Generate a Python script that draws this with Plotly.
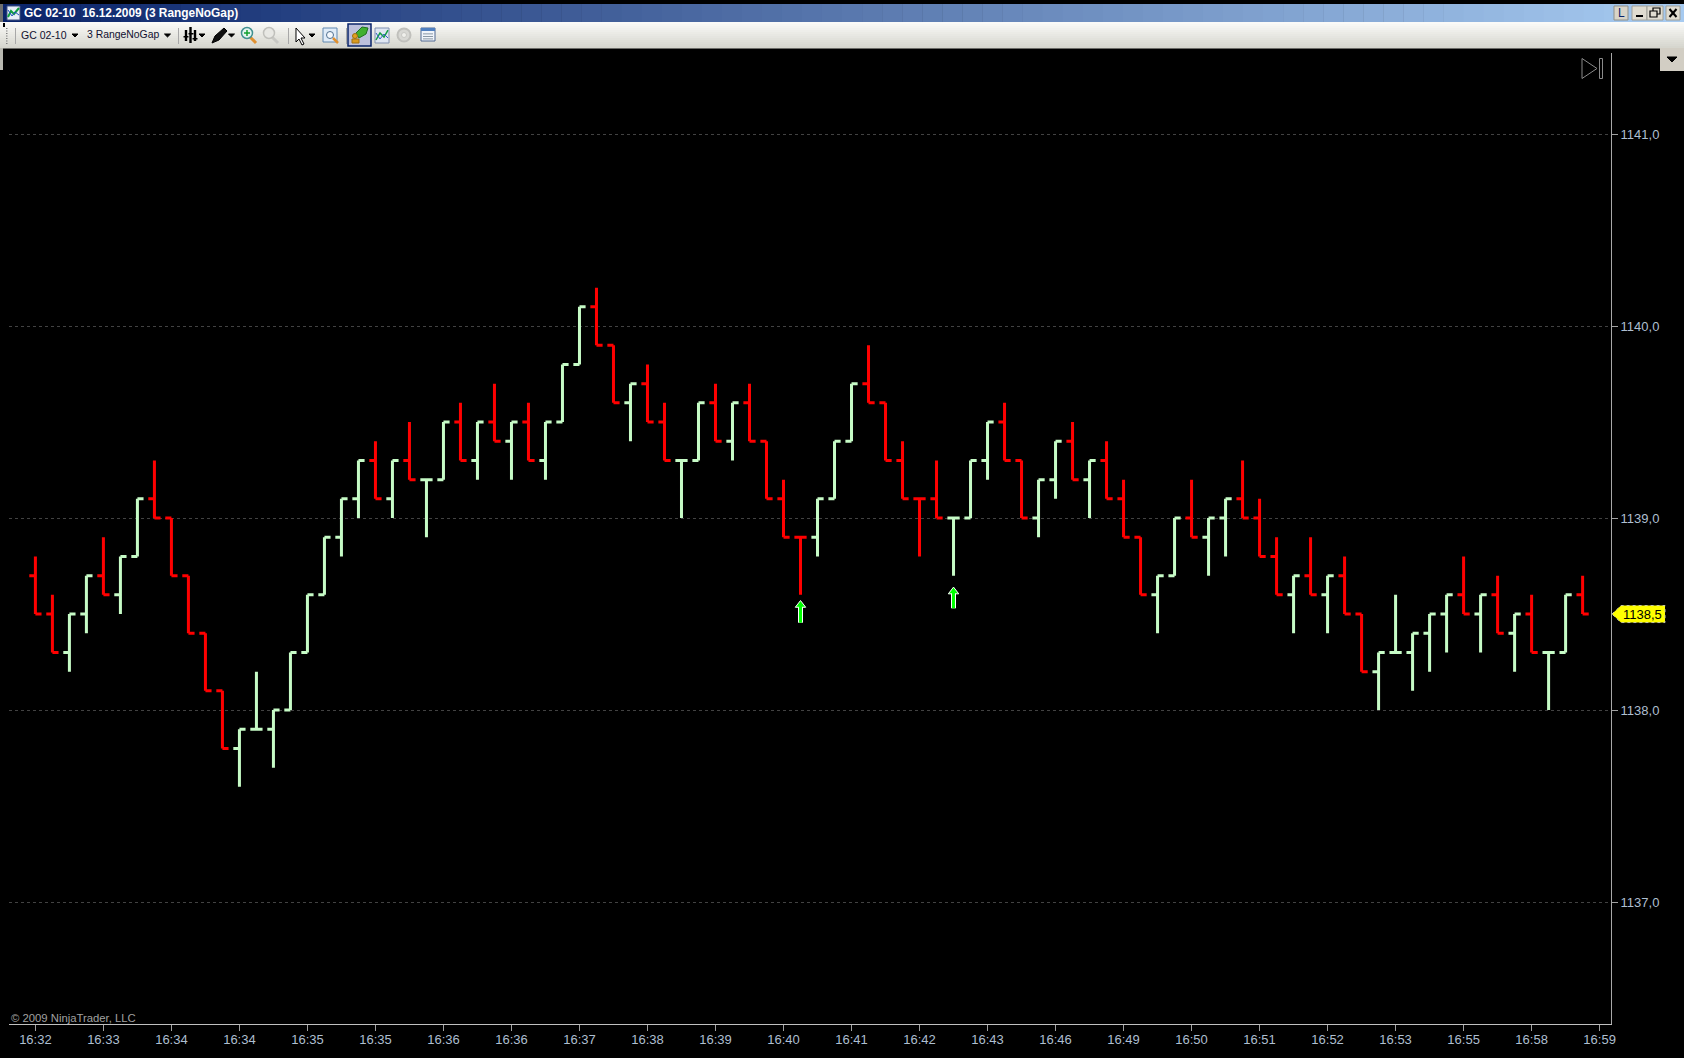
import plotly.graph_objects as go

W, H = 1684, 1058

directions = list("RRGGRGGRRRRRGGGGGGGGRGRGGRGRGRGGGRRGRRGGRGRRRRGGGRRRRRGGGRRGGRGRRRGGRGGRRRGRGRRGGGGGRGRGRGGR")
opens = [1138.7,1138.5,1138.3,1138.5,1138.7,1138.6,1138.8,1139.1,1139.0,1138.7,1138.4,1138.1,1137.8,1137.9,1137.9,1138.0,1138.3,1138.6,1138.9,1139.1,
         1139.3,1139.1,1139.3,1139.2,1139.2,1139.5,1139.3,1139.5,1139.4,1139.5,1139.3,1139.5,1139.8,1140.1,1139.9,1139.6,1139.7,1139.5,1139.3,1139.3,
         1139.6,1139.4,1139.6,1139.4,1139.1,1138.9,1138.9,1139.1,1139.4,1139.7,1139.6,1139.3,1139.1,1139.1,1139.0,1139.0,1139.3,1139.5,1139.3,1139.0,
         1139.2,1139.4,1139.2,1139.3,1139.1,1138.9,1138.6,1138.7,1139.0,1138.9,1139.0,1139.1,1139.0,1138.8,1138.6,1138.7,1138.6,1138.7,1138.5,1138.2,
         1138.3,1138.3,1138.4,1138.5,1138.6,1138.5,1138.6,1138.4,1138.5,1138.3,1138.3,1138.6]
highs = [1138.8,1138.6,1138.5,1138.7,1138.9,1138.8,1139.1,1139.3,1139.0,1138.7,1138.4,1138.1,1137.9,1138.2,1138.0,1138.3,1138.6,1138.9,1139.1,1139.3,
         1139.4,1139.3,1139.5,1139.2,1139.5,1139.6,1139.5,1139.7,1139.5,1139.6,1139.5,1139.8,1140.1,1140.2,1139.9,1139.7,1139.8,1139.6,1139.3,1139.6,
         1139.7,1139.6,1139.7,1139.4,1139.2,1138.9,1139.1,1139.4,1139.7,1139.9,1139.6,1139.4,1139.1,1139.3,1139.0,1139.3,1139.5,1139.6,1139.3,1139.2,
         1139.4,1139.5,1139.3,1139.4,1139.2,1138.9,1138.7,1139.0,1139.2,1139.0,1139.1,1139.3,1139.1,1138.9,1138.7,1138.9,1138.7,1138.8,1138.5,1138.3,
         1138.6,1138.4,1138.5,1138.6,1138.8,1138.6,1138.7,1138.5,1138.6,1138.3,1138.6,1138.7]
lows = [1138.5,1138.3,1138.2,1138.4,1138.6,1138.5,1138.8,1139.0,1138.7,1138.4,1138.1,1137.8,1137.6,1137.9,1137.7,1138.0,1138.3,1138.6,1138.8,1139.0,
        1139.1,1139.0,1139.2,1138.9,1139.2,1139.3,1139.2,1139.4,1139.2,1139.3,1139.2,1139.5,1139.8,1139.9,1139.6,1139.4,1139.5,1139.3,1139.0,1139.3,
        1139.4,1139.3,1139.4,1139.1,1138.9,1138.6,1138.8,1139.1,1139.4,1139.6,1139.3,1139.1,1138.8,1139.0,1138.7,1139.0,1139.2,1139.3,1139.0,1138.9,
        1139.1,1139.2,1139.0,1139.1,1138.9,1138.6,1138.4,1138.7,1138.9,1138.7,1138.8,1139.0,1138.8,1138.6,1138.4,1138.6,1138.4,1138.5,1138.2,1138.0,
        1138.3,1138.1,1138.2,1138.3,1138.5,1138.3,1138.4,1138.2,1138.3,1138.0,1138.3,1138.5]
closes = [1138.5,1138.3,1138.5,1138.7,1138.6,1138.8,1139.1,1139.0,1138.7,1138.4,1138.1,1137.8,1137.9,1137.9,1138.0,1138.3,1138.6,1138.9,1139.1,1139.3,
          1139.1,1139.3,1139.2,1139.2,1139.5,1139.3,1139.5,1139.4,1139.5,1139.3,1139.5,1139.8,1140.1,1139.9,1139.6,1139.7,1139.5,1139.3,1139.3,1139.6,
          1139.4,1139.6,1139.4,1139.1,1138.9,1138.9,1139.1,1139.4,1139.7,1139.6,1139.3,1139.1,1139.1,1139.0,1139.0,1139.3,1139.5,1139.3,1139.0,1139.2,
          1139.4,1139.2,1139.3,1139.1,1138.9,1138.6,1138.7,1139.0,1138.9,1139.0,1139.1,1139.0,1138.8,1138.6,1138.7,1138.6,1138.7,1138.5,1138.2,1138.3,
          1138.3,1138.4,1138.5,1138.6,1138.5,1138.6,1138.4,1138.5,1138.3,1138.3,1138.6,1138.5]

time_labels = ["16:32","16:33","16:34","16:34","16:35","16:35","16:36","16:36","16:37","16:38","16:39","16:40",
               "16:41","16:42","16:43","16:46","16:49","16:50","16:51","16:52","16:53","16:55","16:58","16:59"]
time_ticks = list(range(0, 96, 4))
price_ticks = [1137, 1138, 1139, 1140, 1141]

signal_bars = [45, 54]
signal_heads = [1138.547, 1138.617]
signal_bases = [1138.455, 1138.53]
last_price = closes[-1]


def px(x):
    return x / W


def py(y):
    return 1 - y / H


GREEN = "#c6fbc6"
RED = "#ff0000"
fig = go.Figure()
for code, colour in (("G", GREEN), ("R", RED)):
    idx = [i for i, d in enumerate(directions) if d == code]
    line = dict(line=dict(color=colour, width=3))
    fig.add_trace(go.Ohlc(x=idx, open=[opens[i] for i in idx], high=[highs[i] for i in idx],
                          low=[lows[i] for i in idx], close=[closes[i] for i in idx],
                          increasing=line, decreasing=line, tickwidth=0.36, hoverinfo="skip", showlegend=False))

shaft_x, shaft_y = [], []
for b, h, l in zip(signal_bars, signal_heads, signal_bases):
    shaft_x += [b, b, None]
    shaft_y += [l, h, None]
fig.add_trace(go.Scatter(x=shaft_x, y=shaft_y, mode="lines", line=dict(color="#ffffff", width=5), hoverinfo="skip", showlegend=False))
fig.add_trace(go.Scatter(x=signal_bars, y=signal_heads, mode="markers", hoverinfo="skip", showlegend=False,
                         marker=dict(symbol="triangle-up", size=9, color="#00ff00", line=dict(color="#ffffff", width=1))))
fig.add_trace(go.Scatter(x=shaft_x, y=shaft_y, mode="lines", line=dict(color="#00ff00", width=3), hoverinfo="skip", showlegend=False))

shapes, annos = [], []


def rect(x0, y0, x1, y1, fill, line=None, lw=1, dash=None):
    shapes.append(dict(type="rect", xref="paper", yref="paper", x0=px(x0), x1=px(x1), y0=py(y1), y1=py(y0),
                       fillcolor=fill, layer="above",
                       line=dict(color=line or fill, width=lw if line else 0, dash=dash or "solid")))


def poly(points, fill=None, line=None, lw=1, close=True, dash=None):
    d = "M " + " L ".join(f"{px(a):.5f},{py(b):.5f}" for a, b in points) + (" Z" if close else "")
    shapes.append(dict(type="path", xref="paper", yref="paper", path=d, layer="above",
                       fillcolor=fill if fill else "rgba(0,0,0,0)",
                       line=dict(color=line or "rgba(0,0,0,0)", width=lw, dash=dash or "solid")))


def circle(cx, cy, r, fill, line=None, lw=1):
    shapes.append(dict(type="circle", xref="paper", yref="paper", x0=px(cx - r), x1=px(cx + r), y0=py(cy + r), y1=py(cy - r),
                       fillcolor=fill, layer="above", line=dict(color=line or fill, width=lw)))


def text(x, y, s, size, colour, font="Liberation Sans", anchor="left"):
    annos.append(dict(xref="paper", yref="paper", x=px(x), y=py(y), text=s, showarrow=False, xanchor=anchor, yanchor="middle",
                      font=dict(family=font, size=size, color=colour), borderpad=0, borderwidth=0))


def lerp(a, b, t):
    return "#%02x%02x%02x" % tuple(round(a[i] + (b[i] - a[i]) * t) for i in range(3))


# title bar and toolbar backgrounds
steps = 84
for i in range(steps):
    rect(i * W / steps, 4, (i + 1) * W / steps + 0.5, 22, lerp((10, 36, 106), (166, 202, 240), i / (steps - 1)))
for i in range(13):
    rect(0, 22 + 2 * i, W, 24.5 + 2 * i, lerp((250, 250, 248), (214, 214, 206), i / 12))
rect(0, 48, 3, 70, "#b8b8b0")
rect(0, 4, 3, 22, "#707070")
rect(3, 23, 5, 27, "#000000")

# title icon
rect(7, 6, 20, 20, "#e8eef8", "#405080")
poly([(8, 17), (11, 11), (14, 14), (19, 8)], None, "#10a040", 2, close=False)
poly([(8, 10), (12, 16), (15, 12), (19, 15)], None, "#2050c0", 1, close=False)
text(24, 13, "<b>GC 02-10&nbsp;&nbsp;16.12.2009 (3 RangeNoGap)</b>", 11.9, "#ffffff", "Liberation Sans")

# toolbar
for i in range(7):
    rect(6, 28 + 2.5 * i, 7.5, 29 + 2.5 * i, "#808080")
for sx in (15, 178, 288, 346):
    rect(sx, 28, sx + 1, 44, "#a8a8a8")
text(21, 35, "GC 02-10", 10.5, "#101030")
text(87, 35, "3 RangeNoGap", 10.4, "#101030")
for ax in (75, 167.5, 202, 231.5, 312):
    poly([(ax - 3, 34), (ax + 3, 34), (ax, 37)], "#000000", "#000000")
for bx, y0, y1 in ((186, 30, 41), (190.5, 27, 43), (195, 30, 41)):
    rect(bx - 1.2, y0, bx + 1.2, y1, "#000000")
for bx, by in ((186, 36), (191, 33), (195, 38)):
    rect(bx - 2.5, by, bx + 2.5, by + 1.5, "#000000")
poly([(212, 43), (215, 36), (224, 28), (227, 31), (219, 40)], "#101010", "#000000")
poly([(250, 37), (256, 43)], None, "#e09030", 3, close=False)
circle(247, 33, 5.5, "#e4f4f0", "#409090", 1.5)
poly([(244, 33), (250, 33)], None, "#10a030", 1.5, close=False)
poly([(247, 30), (247, 36)], None, "#10a030", 1.5, close=False)
poly([(272, 37), (278, 43)], None, "#c8c8c4", 3, close=False)
circle(269, 33, 5.5, "#e8e8e4", "#c0c0bc", 1.5)
poly([(296, 28), (296, 42), (299, 39), (302, 45), (304, 44), (301, 38), (305, 38)], "#ffffff", "#000000", 1)
rect(323, 28, 337, 42, "#e0ecf8", "#6088b0")
circle(330, 35, 3.5, "#f4f8fc", "#507090", 1)
poly([(333, 38), (338, 43)], None, "#e09030", 2.5, close=False)
rect(348, 24, 371, 46, "#bcc0dc", "#0a246a", 1.5)
poly([(356, 33), (362, 27), (368, 28), (366, 34), (359, 38)], "#40b030", "#207020", 1)
circle(355, 36, 2.5, "#e0a020", "#a07010", 1)
rect(352, 39, 359, 43, "#d89a20", "#a07010")
rect(375, 28, 389, 43, "#dfe6f2", "#8090b0")
poly([(376, 40), (380, 33), (384, 37), (388, 30)], None, "#10a040", 1.5, close=False)
poly([(376, 33), (380, 39), (384, 34), (388, 38)], None, "#3060c0", 1, close=False)
circle(404, 35, 6.5, "#d8d8d4", "#c0c0bc", 2)
circle(404, 35, 2.5, "#f0f0ec", "#c8c8c4", 1)
rect(421, 28, 435, 41, "#f0f4fa", "#506890")
rect(421, 28, 435, 31, "#5080c0")
for gy in (33.5, 36, 38.5):
    rect(423, gy, 433, gy + 0.8, "#708090")

# window buttons
rect(1614, 6, 1628, 20, "#d8d4c8", "#909088")
text(1621, 13, "L", 12, "#0a246a", anchor="center")
rect(1632, 6, 1647, 20, "#e0dcd0", "#a0a098")
rect(1636, 15, 1643, 17, "#000000")
rect(1647, 6, 1663, 20, "#e0dcd0", "#a0a098")
rect(1653, 8, 1660, 14, "rgba(0,0,0,0)", "#000000", 1.2)
rect(1650, 11, 1657, 17, "#e0dcd0", "#000000", 1.2)
rect(1666, 6, 1680, 20, "#e0dcd0", "#a0a098")
poly([(1669.5, 9), (1676.5, 17)], None, "#000000", 2, close=False)
poly([(1676.5, 9), (1669.5, 17)], None, "#000000", 2, close=False)
rect(1660, 48, 1684, 71, "#d2cec4")
poly([(1667, 57), (1677, 57), (1672, 62)], "#000000", "#000000")

# go-to-end icon
poly([(1582, 58.5), (1597, 68.5), (1582, 78.5)], None, "#8a8a8a", 1)
rect(1599.5, 58.5, 1602.5, 78.5, "rgba(0,0,0,0)", "#8a8a8a", 1)

# current price tag
tag_half = 8.5 / 192
tag_left = (1612, 1621)
tag_right = 1665
shapes.append(dict(type="path", xref="paper", yref="y", layer="above", fillcolor="#ffff00", line=dict(color="#c8c8a8", width=1, dash="dot"),
                   path=f"M {px(tag_left[0]):.5f},{last_price} L {px(tag_left[1]):.5f},{last_price + tag_half:.4f} "
                        f"L {px(tag_right):.5f},{last_price + tag_half:.4f} L {px(tag_right):.5f},{last_price - tag_half:.4f} "
                        f"L {px(tag_left[1]):.5f},{last_price - tag_half:.4f} Z"))
annos.append(dict(xref="paper", yref="y", x=px(1642), y=last_price, text=f"{last_price:.1f}".replace(".", ","), showarrow=False,
                  xanchor="center", yanchor="middle", font=dict(family="Liberation Sans", size=13, color="#000000")))

text(11, 1018, "© 2009 NinjaTrader, LLC", 11.3, "#a0a0a0")

AXIS_FONT = dict(family="Liberation Sans", size=13, color="#aebfd0")
fig.update_layout(
    width=W, height=H, autosize=False, margin=dict(l=0, r=0, t=0, b=0, pad=0),
    paper_bgcolor="#000000", plot_bgcolor="#000000", separators=",.",
    showlegend=False, dragmode=False, shapes=shapes, annotations=annos,
    xaxis=dict(domain=[px(9), px(1611)], range=[-1.553, 92.67], rangeslider=dict(visible=False), showgrid=False, zeroline=False,
               showline=True, linecolor="#c0c0c0", linewidth=1, ticks="outside", ticklen=6, tickcolor="#a0a0a0",
               tickvals=time_ticks, ticktext=time_labels, tickfont=AXIS_FONT, tickangle=0, automargin=False, ticklabelstandoff=-3),
    yaxis=dict(domain=[py(1024), py(53)], range=[1136.365, 1141.422], side="right", showgrid=True, gridcolor="#424242",
               griddash="dot", gridwidth=1, zeroline=False, showline=True, linecolor="#a8a8a8", linewidth=1,
               ticks="outside", ticklen=6, tickcolor="#a0a0a0", tickvals=price_ticks, tickformat=".1f",
               tickfont=AXIS_FONT, automargin=False),
)

fig.write_html("out.html", config={"displayModeBar": False},
               post_script="document.body.style.margin='0';document.body.style.background='#000';document.documentElement.style.overflow='hidden';")
